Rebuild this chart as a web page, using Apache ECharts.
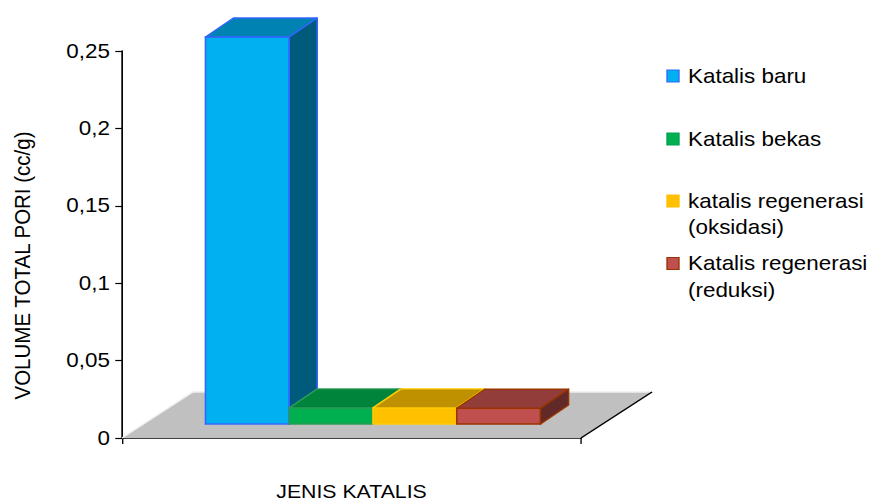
<!DOCTYPE html>
<html>
<head>
<meta charset="utf-8">
<script src="https://cdn.jsdelivr.net/npm/echarts@6/dist/echarts.min.js"></script>
<style>
  html, body { margin: 0; padding: 0; background: #fff; overflow: hidden; }
  #wrap { width: 873px; height: 503px; overflow: hidden; }
  /* the chart is laid out on a narrower canvas and widened to the page */
  #chart { width: 779px; height: 503px; transform-origin: 0 0; }
</style>
</head>
<body>
<div id="wrap"><div id="chart"></div></div>
<script>
// ---- data ----
const categories = ['JENIS KATALIS'];
const seriesNames = [
  'Katalis baru',
  'Katalis bekas',
  'katalis regenerasi\n(oksidasi)',
  'Katalis regenerasi\n(reduksi)'
];
const seriesValues = [0.25, 0.0104, 0.0104, 0.0102];
const yTickValues = [0, 0.05, 0.1, 0.15, 0.2, 0.25];
const yAxisTitle = 'VOLUME TOTAL PORI (cc/g)';

// ---- look ----
const PAGE_W = 873, CANVAS_W = 779;
const SX = PAGE_W / CANVAS_W;            // horizontal stretch of the canvas
document.getElementById('chart').style.transform = 'scaleX(' + SX + ')';
const FONT = '"Liberation Sans", Arial, sans-serif';

const palette = {
  front: ['#00B0F0', '#00B050', '#FFC000', '#C0504D'],
  top:   ['#0082B2', '#00843C', '#BF9000', '#923D3A'],
  side:  ['#005A7C', '#005A28', '#806000', '#612927'],
  edge:  ['#3366FF', '#2E9A5A', '#FFCC00', '#993300'],
  legendEdge: ['#3366FF', '#00A050', '#FFC000', '#993300']
};

// depth geometry, in page pixels
const FLOOR_DEPTH = [71, -46];
const BAR_DEPTH = [28, -19];
const BAR_INSET = [21.5, -14];
const BAR_SPAN = 0.73;                   // share of the category band taken by the bars

// chart area, in page pixels
const AXIS_X = 122, AXIS_RIGHT = 581, AXIS_TOP = 51, AXIS_BOTTOM = 438;

const sx = v => v / SX;

function floorItem(params, api) {
  const c = api.coord([api.value(0), 0]);
  const band = api.size([1, 0])[0];
  const l = c[0] - band / 2, r = c[0] + band / 2, y = c[1];
  const dx = sx(FLOOR_DEPTH[0]), dy = FLOOR_DEPTH[1];
  return {
    type: 'group',
    children: [
      { type: 'polygon', shape: { points: [[l, y], [r, y], [r + dx, y + dy], [l + dx, y + dy]] },
        style: { fill: '#C0C0C0', stroke: null } },
      { type: 'polyline', shape: { points: [[l, y], [l + dx, y + dy], [r + dx, y + dy]] },
        style: { stroke: '#EEEEEE', lineWidth: 1.5, fill: null } },
      { type: 'line', shape: { x1: r, y1: y, x2: r + dx, y2: y + dy },
        style: { stroke: '#000', lineWidth: 1.5 } }
    ]
  };
}

function makeBarRenderer(i) {
  return function (params, api) {
    const base = api.coord([api.value(0), 0]);
    const top = api.coord([api.value(0), api.value(1)]);
    const band = api.size([1, 0])[0];
    const w = band * BAR_SPAN / seriesValues.length;
    const x0 = base[0] - band * BAR_SPAN / 2 + i * w + sx(BAR_INSET[0]);
    const x1 = x0 + w;
    const yT = top[1] + BAR_INSET[1];
    const yB = base[1] + BAR_INSET[1];
    const dx = sx(BAR_DEPTH[0]), dy = BAR_DEPTH[1];
    const stroke = palette.edge[i];
    const lw = 1.4;
    return {
      type: 'group',
      children: [
        { type: 'polygon', shape: { points: [[x0, yT], [x1, yT], [x1, yB], [x0, yB]] },
          style: { fill: palette.front[i], stroke: stroke, lineWidth: lw } },
        { type: 'polygon', shape: { points: [[x0, yT], [x1, yT], [x1 + dx, yT + dy], [x0 + dx, yT + dy]] },
          style: { fill: palette.top[i], stroke: stroke, lineWidth: lw, lineJoin: 'round' } },
        { type: 'polygon', shape: { points: [[x1, yT], [x1 + dx, yT + dy], [x1 + dx, yB + dy], [x1, yB]] },
          style: { fill: palette.side[i], stroke: stroke, lineWidth: lw, lineJoin: 'round' } }
      ]
    };
  };
}

const barSeries = seriesNames.map((name, i) => ({
  type: 'custom',
  name: name,
  silent: true,
  z: 3 + i,
  renderItem: makeBarRenderer(i),
  data: [[0, seriesValues[i]]]
}));

// legend rows, drawn beside the plot
const LEGEND_ROW_Y = [76, 139, 201, 263.5];
const legendGraphics = [];
seriesNames.forEach((name, i) => {
  legendGraphics.push({
    type: 'rect',
    shape: { x: sx(667), y: LEGEND_ROW_Y[i] - 6, width: sx(12), height: 12 },
    style: { fill: palette.front[i], stroke: palette.legendEdge[i], lineWidth: 1.2 }
  });
  legendGraphics.push({
    type: 'text',
    x: sx(688), y: LEGEND_ROW_Y[i] - 13.25,
    style: { text: name, font: '20px ' + FONT, fill: '#000', verticalAlign: 'top', lineHeight: 26.5 }
  });
});

const chart = echarts.init(document.getElementById('chart'), null, { renderer: 'svg' });
chart.setOption({
  animation: false,
  backgroundColor: '#fff',
  grid: {
    left: sx(AXIS_X),
    right: CANVAS_W - sx(AXIS_RIGHT),
    top: AXIS_TOP,
    bottom: 503 - AXIS_BOTTOM,
    containLabel: false,
    outerBoundsMode: 'none'
  },
  xAxis: {
    type: 'category',
    data: categories,
    boundaryGap: true,
    name: categories[0],
    nameLocation: 'middle',
    nameGap: 53,
    nameTextStyle: { fontFamily: FONT, fontSize: 19, color: '#000', verticalAlign: 'middle', lineHeight: 19 },
    axisLine: { lineStyle: { color: '#000', width: 1.5 } },
    axisTick: { show: true, length: 6, lineStyle: { color: '#000', width: 1.2 } },
    axisLabel: { show: false },
    splitLine: { show: false }
  },
  yAxis: {
    type: 'value',
    min: yTickValues[0],
    max: yTickValues[yTickValues.length - 1],
    interval: yTickValues[1] - yTickValues[0],
    axisLine: { show: true, lineStyle: { color: '#000', width: 1.5 } },
    axisTick: { show: true, length: 6, lineStyle: { color: '#000', width: 1.2 } },
    axisLabel: {
      margin: sx(12),
      fontFamily: FONT, fontSize: 20, color: '#000',
      formatter: v => String(Number(v.toFixed(2))).replace('.', ',')
    },
    splitLine: { show: false }
  },
  graphic: [
    {
      type: 'text',
      x: sx(22), y: 265.5,
      rotation: Math.PI / 2,
      style: { text: yAxisTitle, font: '20.5px ' + FONT, fill: '#000', align: 'center', verticalAlign: 'middle' }
    }
  ].concat(legendGraphics),
  series: [
    { type: 'custom', name: 'floor', silent: true, z: 1, renderItem: floorItem, data: [[0, 0]] }
  ].concat(barSeries)
});
</script>
</body>
</html>
